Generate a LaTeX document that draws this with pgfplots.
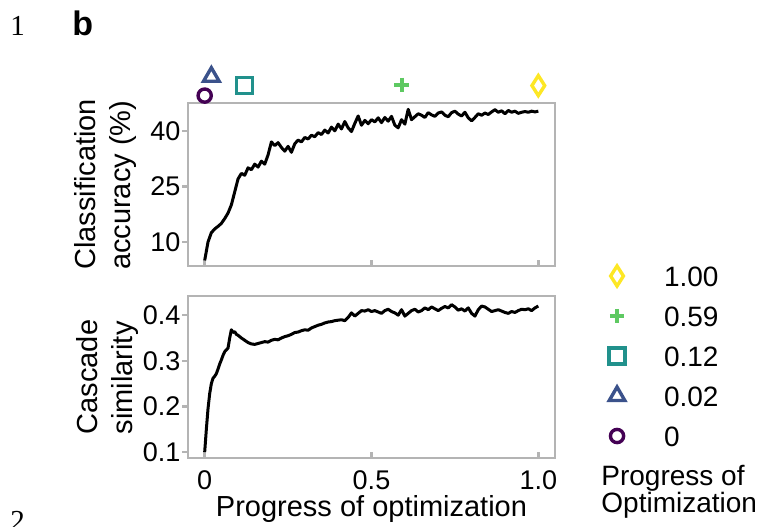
\documentclass[border=0pt]{standalone}
\usepackage{fontspec}
\setmainfont{Liberation Sans}
\newfontfamily\seriffont{Liberation Serif}
\usepackage{pgfplots}
\pgfplotsset{compat=1.18}

\definecolor{axgray}{HTML}{B4B4B4}
\definecolor{vpurple}{HTML}{440154}
\definecolor{vblue}{HTML}{3B528B}
\definecolor{vteal}{HTML}{21918C}
\definecolor{vgreen}{HTML}{5EC962}
\definecolor{vyellow}{HTML}{FDE725}

\newcommand\ticksz{\fontsize{13.5}{16}\selectfont}
\newcommand\labsz{\fontsize{14.5}{17.5}\selectfont}
\newcommand\legsz{\fontsize{14}{16}\selectfont}

\pgfplotsset{
  panel/.style={
    scale only axis, width=183.5pt,
    xmin=-0.05, xmax=1.05,
    axis line style={axgray, line width=1.2pt},
    tick style={axgray, line width=1.2pt},
    tick align=outside, major tick length=2.8pt,
    x tick style={yshift=2.8pt},
    xtick pos=bottom, ytick pos=left,
    xtick={0,0.5,1},
    tick label style={font=\ticksz, black},
    yticklabel style={xshift=2.5pt},
    xlabel style={font=\labsz, yshift=4pt},
    ylabel style={align=left, font=\labsz},
    /pgf/number format/assume math mode=true,
  },
  curve/.style={black, line width=1.5pt, line join=round, no marks, forget plot},
  mk/.style={only marks, line width=1.7pt,
    legend image code/.code={\draw[##1] plot coordinates {(8pt,0pt)};
      \path (0pt,0pt) (30.5pt,0pt);}},
}

\begin{document}
\begin{tikzpicture}
\useasboundingbox (0pt,0pt) rectangle (382.5pt,-263pt);

\node[anchor=base west, inner sep=0pt, font=\seriffont\fontsize{14.5}{16}\selectfont] at (5pt,-17.5pt) {1};
\node[anchor=base west, inner sep=0pt, font=\seriffont\fontsize{14.5}{16}\selectfont] at (5pt,-265pt) {2};
\node[anchor=base west, inner sep=0pt, font=\fontsize{17}{20}\selectfont\bfseries] at (36pt,-17.5pt) {b};

% top panel: classification accuracy
\begin{axis}[panel,
  at={(94pt,-133pt)}, anchor=south west,
  height=81.5pt,
  ymin=3.5, ymax=47.5,
  ytick={10,25,40},
  xticklabels={},
  ylabel={Classification\\accuracy (\%)},
  clip=false,
  legend style={at={(1.12,0.0)}, anchor=north west, draw=none, fill=none,
    inner sep=0pt, outer sep=0pt, row sep=10pt, column sep=0pt,
    nodes={inner sep=0pt, text height=10pt, text depth=0pt, font=\legsz}},
  legend cell align=left,
]
\addplot[curve] coordinates {
(0.00,5.0) (0.01,10.0) (0.02,12.5) (0.03,13.5) (0.04,14.2) (0.05,15.0)
(0.06,16.3) (0.07,17.8) (0.08,20.0) (0.09,23.5) (0.10,27.0) (0.11,28.5)
(0.12,28.0) (0.13,30.0) (0.14,29.5) (0.15,31.0) (0.16,30.2) (0.17,31.8)
(0.18,31.0) (0.19,33.5) (0.20,37.0) (0.21,36.0) (0.22,36.8) (0.23,35.5)
(0.24,34.5) (0.25,35.8) (0.26,34.2) (0.27,36.5) (0.28,37.5) (0.29,37.0)
(0.30,38.2) (0.31,37.8) (0.32,38.8) (0.33,38.4) (0.34,39.5) (0.35,39.0)
(0.36,40.2) (0.37,39.4) (0.38,41.0) (0.39,40.0) (0.40,41.8) (0.41,40.5)
(0.42,42.5) (0.43,40.8) (0.44,39.8) (0.45,42.0) (0.46,44.0) (0.47,41.5)
(0.48,42.8) (0.49,41.9) (0.50,43.0) (0.51,42.4) (0.52,43.5) (0.53,42.2)
(0.54,43.6) (0.55,42.6) (0.56,43.9) (0.57,41.5) (0.58,40.8) (0.59,43.0)
(0.60,41.8) (0.61,45.8) (0.62,43.0) (0.63,43.8) (0.64,44.6) (0.65,44.2)
(0.66,43.6) (0.67,44.9) (0.68,44.3) (0.69,43.9) (0.70,44.8) (0.71,45.1)
(0.72,44.2) (0.73,43.8) (0.74,44.9) (0.75,45.3) (0.76,44.5) (0.77,44.0)
(0.78,45.0) (0.79,43.5) (0.80,42.7) (0.81,43.6) (0.82,44.6) (0.83,44.2)
(0.84,44.8) (0.85,44.4) (0.86,45.1) (0.87,45.7) (0.88,45.0) (0.89,45.4)
(0.90,44.6) (0.91,45.5) (0.92,45.0) (0.93,45.3) (0.94,44.7) (0.95,45.0)
(0.96,45.2) (0.97,45.0) (0.98,45.3) (0.99,45.1) (1.00,45.3)
};
\addplot[mk, vyellow, mark=diamond, mark size=5pt, mark options={xscale=0.85}]
  coordinates {(1.0,52.2)};
\addlegendentry{1.00}
\addplot[mk, vgreen, mark=+, mark size=3.6pt, line width=2pt]
  coordinates {(0.59,52.4)};
\addlegendentry{0.59}
\addplot[mk, vteal, mark=square, mark size=4pt]
  coordinates {(0.12,52.2)};
\addlegendentry{0.12}
\addplot[mk, vblue, mark=triangle, mark size=4.5pt]
  coordinates {(0.02,54.6)};
\addlegendentry{0.02}
\addplot[mk, vpurple, mark=o, mark size=3.3pt]
  coordinates {(0.0,49.5)};
\addlegendentry{0}
\end{axis}

% bottom panel: cascade similarity
\begin{axis}[panel,
  at={(94pt,-229pt)}, anchor=south west,
  height=81pt,
  ymin=0.087, ymax=0.442,
  ytick={0.1,0.2,0.3,0.4},
  xticklabels={0,0.5,1.0},
  xlabel={Progress of optimization},
  ylabel={Cascade\\similarity},
  ylabel style={yshift=-4.5pt},
]
\addplot[curve] coordinates {
(0.000,0.100) (0.005,0.150) (0.010,0.195) (0.015,0.228) (0.020,0.250)
(0.025,0.262) (0.030,0.266) (0.035,0.272) (0.040,0.282) (0.045,0.293)
(0.050,0.302) (0.055,0.312) (0.060,0.320) (0.065,0.324) (0.070,0.328)
(0.075,0.350) (0.080,0.368) (0.085,0.362) (0.090,0.364) (0.095,0.358)
(0.100,0.356) (0.11,0.350) (0.12,0.345) (0.13,0.340) (0.14,0.337)
(0.15,0.336) (0.16,0.338) (0.17,0.340) (0.18,0.342) (0.19,0.341)
(0.20,0.345) (0.21,0.347) (0.22,0.346) (0.23,0.350) (0.24,0.353)
(0.25,0.355) (0.26,0.358) (0.27,0.362) (0.28,0.363) (0.29,0.366)
(0.30,0.368) (0.31,0.367) (0.32,0.372) (0.33,0.375) (0.34,0.378)
(0.35,0.380) (0.36,0.383) (0.37,0.385) (0.38,0.386) (0.39,0.388)
(0.40,0.389) (0.41,0.390) (0.42,0.388) (0.43,0.395) (0.44,0.405)
(0.45,0.398) (0.46,0.404) (0.47,0.410) (0.48,0.409) (0.49,0.412)
(0.50,0.408) (0.51,0.410) (0.52,0.407) (0.53,0.404) (0.54,0.410)
(0.55,0.413) (0.56,0.408) (0.57,0.405) (0.58,0.400) (0.59,0.412)
(0.60,0.398) (0.61,0.404) (0.62,0.410) (0.63,0.413) (0.64,0.407)
(0.65,0.410) (0.66,0.416) (0.67,0.412) (0.68,0.418) (0.69,0.414)
(0.70,0.410) (0.71,0.415) (0.72,0.419) (0.73,0.416) (0.74,0.423)
(0.75,0.418) (0.76,0.411) (0.77,0.414) (0.78,0.409) (0.79,0.416)
(0.80,0.404) (0.81,0.398) (0.82,0.412) (0.83,0.420) (0.84,0.418)
(0.85,0.413) (0.86,0.408) (0.87,0.410) (0.88,0.412) (0.89,0.409)
(0.90,0.406) (0.91,0.404) (0.92,0.408) (0.93,0.406) (0.94,0.410)
(0.95,0.413) (0.96,0.412) (0.97,0.414) (0.98,0.410) (0.99,0.416)
(1.00,0.420)
};
\end{axis}

\node[anchor=base west, align=left, inner sep=0pt, font=\fontsize{14}{13.5}\selectfont]
  at (300.5pt,-256pt) {Progress of\\Optimization};
\end{tikzpicture}
\end{document}
